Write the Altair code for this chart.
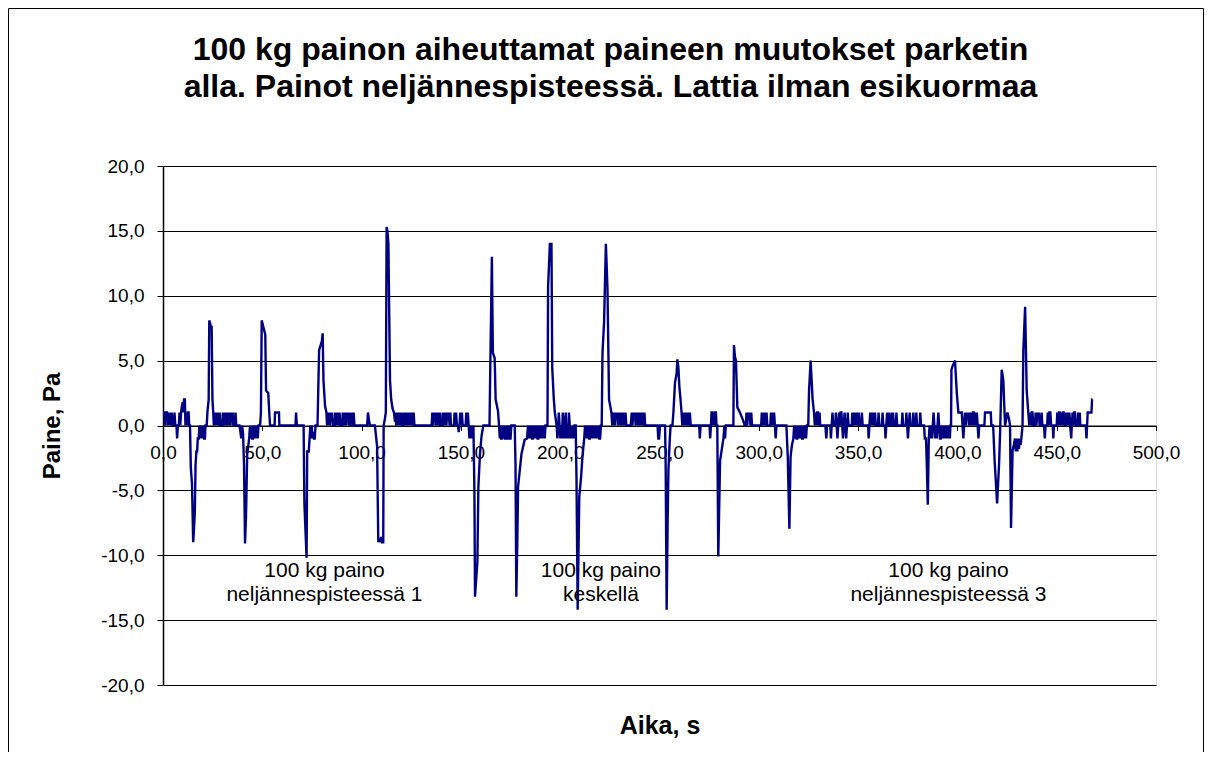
import altair as alt
import pandas as pd

# ---------------- data (time s, pressure Pa) ----------------
region_a = [(0.0,1),(0.6,1),(0.9,0),(1.3,1),(2.0,1),(2.3,0),(2.8,1),(3.2,0),(3.6,1),(4.0,0),(4.4,1),(4.8,0),
            (5.5,0),(5.8,1),(6.2,0),(6.8,0),(7.1,-1),(7.5,0),(8.0,0),(8.3,1),(8.7,0),(9.1,1),(9.5,1.5),(9.9,1.8),
            (10.2,1),(10.6,2),(11.0,2),(11.3,0),(11.7,1),(12.1,0),(12.5,1),(12.9,1),(13.2,0),(13.6,0)]
event_1 = [(14.0,-3.2),(14.6,-4.5),(15.2,-9.0),(15.6,-8.0),(16.0,-6.8),(16.4,-3.0),(16.8,-2.0),(17.2,-2.0),
           (17.5,-1.0),(18.0,-1.0),(18.3,0),(18.6,-1),(19.0,0),(19.3,-1),(19.7,0),(20.0,-1),(20.4,0),(20.7,-1),
           (21.1,-1),(21.4,0),(22.0,0),(22.4,1.1),(23.0,2.0),(23.3,8.1),(23.7,7.9),(24.1,7.6),(24.5,7.6),
           (24.9,2.0),(25.3,1.0),(25.6,0)]
region_b = [(26.0,1),(26.3,0),(26.6,1),(26.9,0.5),(27.2,1),(27.5,0),(27.8,1),(28.2,0),(28.5,1),(28.8,0),
            (29.8,0),(30.1,1),(30.4,0),(30.8,1),(31.1,0),(31.5,1),(31.8,0),(32.2,1),(32.5,0),(32.9,1),(33.2,0),
            (33.6,1),(34.0,0),(34.3,1),(34.7,0.5),(35.1,1),(35.4,0),(36.2,0),(36.5,1),(36.9,0),(38.5,0)]
event_2 = [(39.0,-0.5),(39.4,-1),(39.8,0),(40.3,-0.6),(40.8,-3),(41.3,-9.1),(41.8,-7.0),(42.4,-2.2),(43.0,-1.5),
           (43.4,-1),(43.8,0),(44.1,-1),(44.5,0),(44.9,-1),(45.3,-1),(45.7,0),(46.1,-1),(46.5,0),(46.9,-1),
           (47.3,0),(47.7,-1),(48.1,0),(48.9,0),(49.3,1.0),(49.7,8.1),(50.2,7.8),(51.0,7.3),(51.5,7.0),
           (51.9,2.7),(53.0,2.5),(53.5,1.0),(53.9,0)]
region_c = [(56.2,0),(56.4,1),(58.4,1),(58.6,0),(66.7,0),(67.0,1),(67.4,0),(70.8,0)]
event_3 = [(71.2,-6.0),(72.3,-10.2),(72.6,-2.0),(73.4,-2.0),(73.8,-1.0),(74.2,0),(74.5,-1),(74.9,0),(75.2,-1),
           (75.6,-0.5),(76.0,-1),(76.4,-1),(76.8,0),(77.8,0),(78.6,5.8),(80.0,6.5),(80.4,7.1),(80.8,3.5),
           (81.6,1.5),(82.3,1.0),(82.6,0)]
region_d = [(83.0,1),(83.3,0),(83.7,1),(84.0,0),(84.4,1),(84.8,0.5),(85.1,1),(85.5,0),(86.4,0),(86.7,1),
            (87.0,0),(87.4,1),(87.7,0),(88.1,1),(88.5,0),(88.9,1),(89.3,0),(90.2,0),(90.5,1),(90.8,0),(91.2,1),
            (91.5,0),(91.9,1),(92.3,0),(92.6,1),(93.0,0.5),(93.3,1),(93.7,0),(94.0,1),(94.4,0),(95.0,0),
            (95.3,1),(95.7,0),(96.0,1),(96.4,0),(102.8,0),(103.2,1),(103.8,0.3),(104.2,0),(106.7,0)]
event_4 = [(107.8,-1.6),(108.4,-9.0),(108.8,-8.7),(109.3,-9.0),(109.8,-8.6),(110.3,-9.0),(110.9,-9.0),
           (111.1,0),(111.7,0.5),(112.2,1),(112.6,15.3),(113.0,15.0),(113.5,14.0),(114.3,3.5),(114.9,2.0),
           (115.6,1.3),(116.3,1.0),(116.8,0.3)]
region_e = [(117.1,1),(117.4,0),(117.8,1),(118.1,0),(118.5,1),(118.9,0),(119.3,1),(119.7,0),(120.0,1),
            (120.4,0),(121.0,0),(121.3,1),(121.7,0),(122.1,1),(122.4,0),(122.8,1),(123.2,0),(123.6,1),
            (124.0,0),(124.3,1),(124.8,0),(125.2,1),(125.6,0),(126.2,1),(126.6,0),(135.3,0),
            (135.6,1),(136.0,0),(136.3,1),(136.7,0.5),(137.0,1),(137.4,0),(137.8,1),(138.1,0),(138.5,1),
            (138.9,0),(139.3,1),(139.7,0),(140.5,0),(140.8,1),(141.2,0),(141.6,1),(142.0,0),(142.4,1),
            (142.7,0),(143.1,1),(143.5,0.5),(143.9,1),(144.3,0),(144.7,1),(145.0,0),(146.5,0),(146.8,1),
            (147.2,0),(147.6,1),(148.0,0),(148.5,0),(148.9,-0.5),(149.3,0),(149.7,1),(150.1,0),(150.5,1),
            (150.9,0),(152.4,0),(152.7,1),(153.1,0),(153.5,1),(153.9,0)]
event_5 = [(154.3,-1),(154.7,0),(155.1,-1),(155.4,0),(155.8,-1),(156.3,0),(156.8,-5.0),(157.1,-13.2),
           (158.3,-10.5),(158.8,-4.7),(159.6,-2.2),(160.4,-0.8),(161.3,0),(164.4,0),(164.9,5.6),(165.6,13.0),
           (166.1,5.6),(167.0,5.2),(167.5,2.0),(168.7,1.1),(169.2,0),
           (169.6,-1),(170.0,0),(170.3,-1),(170.7,-1),(171.0,0),(171.4,-1),(171.8,0),(172.2,-1),(172.6,-1),
           (173.0,0),(173.4,-1),(173.8,-1),(174.2,0),(174.6,-1),(175.0,-1),(175.4,0),(177.1,0)]
event_6 = [(177.5,-3.0),(177.9,-13.2),(178.4,-9.0),(178.8,-4.7),(180.5,-2.2),(182.1,-1.1),(183.3,-1.0),
           (183.8,0),(184.2,-1),(184.6,0),(185.0,-1),(185.4,0),(185.8,-1),(186.2,-1),(186.6,0),(187.0,-1),
           (187.4,0),(187.8,-1),(188.2,0),(188.6,-1),(189.0,-1),(189.4,0),(189.8,-1),(190.2,0),(190.6,-1),
           (191.0,0),(191.4,-1),(191.8,0),(192.2,-1),(192.6,0),(193.6,0)]
event_7 = [(193.9,10.7),(194.8,14.0),(195.6,14.0),(196.0,4.4),(196.8,2.0),(197.3,1.0),(198.2,0),
           (198.6,-1),(199.0,0),(199.3,1),(199.7,0),(200.1,-1),(200.5,0),(200.9,-1),(201.3,1),(201.7,0),
           (202.0,-1),(202.4,0),(202.8,1),(203.2,-1),(203.6,0),(204.0,-1),(204.4,1),(204.8,0),(205.2,-1),
           (205.6,0),(206.0,-1),(206.4,0),(206.8,-1),(207.2,0),(207.8,0)]
event_8 = [(208.2,-4.0),(208.8,-14.2),(209.6,-5.5),(210.5,-4.0),(211.3,-2.2),(212.1,-1.0),(212.5,0),
           (212.9,-1),(213.3,0),(213.7,-1),(214.1,0),(214.5,-1),(214.9,-1),(215.3,0),(215.7,-1),(216.1,0),
           (216.5,-1),(216.9,0),(217.3,-1),(217.7,0),(218.1,-1),(218.5,0),(218.9,-1),(219.3,0),(219.7,-1),
           (220.1,-1),(220.5,0),(220.9,0)]
event_9 = [(221.3,5.6),(222.1,8.0),(223.0,14.0),(223.8,10.6),(224.6,2.0),(225.8,1.0),(226.2,0)]
region_f = [(226.6,1),(227.0,0),(227.3,1),(227.7,0),(228.1,1),(228.5,0.5),(228.9,1),(229.3,0),(229.7,1),
            (230.1,0),(230.5,1),(230.9,0),(231.3,1),(231.7,0),(232.1,1),(232.5,0),(232.9,1),(233.3,0),
            (235.5,0),(236.0,1),(236.4,0),(236.8,1),(237.2,0.5),(237.6,1),(238.0,0),(238.4,1),(238.8,0),
            (239.2,1),(239.6,0),(240.0,1),(240.4,0),(240.8,1),(241.2,0),(241.6,1),(242.0,0),(242.4,1),
            (242.8,0),(249.0,0),(249.4,-1),(249.8,-1),(250.2,0),(252.8,0)]
event_10 = [(253.1,-3.0),(253.6,-14.2),(254.1,-7.4),(254.5,-3.4),(255.2,-1.0),(255.6,0),(256.5,0),(257.0,1.0),
            (257.8,3.3),(258.6,4.0),(259.0,5.1),(259.5,4.5),(260.0,3.0),(260.6,2.0),(261.1,1.0),(261.5,0),
            (261.9,1),(262.3,0),(262.7,1),(263.1,0),(263.5,1),(263.9,0),(264.3,1),(264.8,0),(265.3,1),
            (265.7,0),(270.0,0),(270.3,-1),(270.7,0),(275.2,0),(275.5,-1),(275.9,0),(276.2,1),(276.7,1),
            (277.0,0),(277.3,1),(277.7,0),(278.0,1),(278.4,1),(278.7,0),(279.1,0)]
event_11 = [(279.6,-10.1),(280.5,-2.7),(281.2,-2.0),(282.2,-1.0),(282.7,0),(283.0,-1),(283.4,0),(287.2,0),
            (287.5,6.2),(288.0,5.3),(288.5,5.0),(289.2,1.4),(290.5,1.0),(292.1,0.4),(292.9,0),
            (293.5,0),(293.8,1),(294.2,0),(294.6,1),(295.0,0.5),(295.4,1),(295.8,0),(296.2,1),(296.6,0),
            (301.2,0),(301.5,1),(301.9,0),(302.3,1),(302.7,0),(303.1,1),(303.5,0),(303.9,1),(304.3,0),
            (305.8,0),(306.1,1),(306.5,0),(306.9,1),(307.3,0),(307.7,1),(308.1,0),(308.5,-1),(308.9,0),
            (313.9,0)]
event_12 = [(314.6,-2.5),(315.4,-7.95),(316.0,-2.4),(316.7,-1.5),(317.4,-1.0),(317.8,0),(318.2,-1),(318.6,0),
            (319.0,-1),(319.4,-1),(319.8,0),(320.2,-1),(320.6,0),(321.0,-1),(321.4,0),(321.8,-1),(322.2,-1),
            (322.6,0),(323.0,-1),(323.4,0),(323.8,-1),(324.2,0),(324.9,0),(325.3,2.7),(326.1,5.0),(326.6,3.5),
            (327.1,2.0),(327.8,1.0),(328.2,0),(328.6,1),(329.0,0),(329.4,1),(329.8,1),(330.2,0),(330.6,1),
            (330.9,0),(333.5,0)]
region_g = [(334.0,-1),(334.4,0),(336.0,0),(336.3,-1),(336.7,0),(337.1,1),(337.5,0),(338.5,0),(338.8,1),
            (339.2,0),(339.6,-1),(340.0,0),(340.4,1),(340.8,0),(341.2,1),(341.6,1),(342.0,0),(342.4,-1),
            (342.8,0),(343.2,1),(343.6,0),(344.0,-1),(344.4,0),(344.8,1),(345.2,0),(346.8,0),(347.1,1),
            (347.5,0),(347.9,1),(348.3,0),(348.7,1),(349.1,0),(349.5,1),(349.9,0),(350.3,1),(350.7,0),
            (351.5,0),(351.9,1),(352.3,0),(355.0,0),(355.3,-1),(355.7,0),(356.1,1),(356.5,0),(356.9,1),
            (357.3,0),(357.7,1),(358.1,0),(358.5,1),(358.9,0),(360.0,0),(360.3,1),(360.7,0),(362.0,0),
            (362.3,1),(362.7,0),(363.5,0),(363.8,-1),(364.2,0),(364.6,1),(365.0,0),(365.4,1),(365.8,0),
            (366.5,0),(366.8,1),(367.2,0),(367.6,1),(368.0,0),(369.0,0),(369.3,1),(369.7,0),(372.0,0),
            (372.3,1),(372.7,0),(374.0,0),(374.3,1),(374.7,0),(375.1,-1),(375.5,0),(376.0,1),(376.4,0),
            (377.5,0),(377.8,1),(378.2,0),(379.0,0),(379.3,1),(379.7,0),(381.0,0),(381.3,1),(381.7,0),
            (383.2,0)]
event_13 = [(383.6,-1),(384.2,-1),(384.6,-3.0),(385.1,-6.1),(385.6,-1.0),(386.0,0),(386.4,-1),(386.8,0),
            (387.2,-1),(387.6,0),(388.0,1),(388.4,0),(388.8,-1),(389.2,0),(389.6,-1),(390.0,0),(390.4,1),
            (390.8,0),(391.2,-1),(391.6,-1),(392.0,0),(392.4,-1),(392.8,0),(393.2,-1),(393.5,0),(393.8,-1),
            (394.1,0),(394.4,-1),(394.7,0),(395.0,-1),(395.3,0),(395.6,-1),(395.9,0),(396.2,-1),(396.5,0),
            (396.8,0),(397.0,4.3),(397.6,4.6),(398.8,5.0),(399.7,2.5),(400.5,1.0),(402.2,1.0),(402.6,0),
            (403.0,-1),(403.4,0),(403.8,1),(404.2,0),(404.6,1),(405.0,0.5),(405.4,1),(405.8,0),(406.2,1),
            (406.6,0),(407.0,1),(407.4,0),(407.8,1),(408.2,1),(408.6,0),(409.0,1),(409.4,0),(409.8,1),
            (410.2,0),(410.6,-1),(411.0,0),(413.6,0),(413.9,1),(416.8,1),(417.1,0)]
event_14 = [(418.0,0),(418.8,-2.9),(420.0,-6.0),(421.0,-2.9),(421.6,0),(422.3,4.3),(423.1,3.5),(424.0,0),
            (424.6,0.5),(425.2,1.0),(426.0,0.5),(426.5,0),(427.0,-7.9),(427.8,-1.9),(428.4,-1.5),(429.0,-1.0),
            (429.4,-2),(429.8,-1),(430.2,-2),(430.6,-1),(431.0,-1.8),(431.4,-1),(431.8,-1.5),(432.2,-1),
            (432.8,0),(433.2,5.8),(434.1,9.15),(434.9,2.7),(435.7,1.0)]
region_h = [(436.2,0),(436.6,1),(437.0,0),(437.4,1),(437.8,1),(438.2,0),(439.0,0),(439.4,1),(439.8,0),
            (440.2,1),(440.6,0.5),(441.0,1),(441.4,0),(442.0,0),(442.4,1),(442.8,0),(443.6,0),(444.0,-1),
            (444.4,0),(445.2,0),(445.5,1),(445.9,0),(446.3,1),(446.8,1),(447.2,0),(448.0,0),(448.3,-1),
            (448.6,0),(450.0,0),(450.3,1),(450.7,0),(451.1,1),(451.5,1),(451.9,0),(452.3,1),(452.7,0),
            (453.1,1),(453.5,1),(453.9,0),(454.5,0),(454.8,1),(455.2,0),(455.6,1),(456.0,0),(456.4,1),
            (456.8,0),(457.3,-1),(457.6,0),(458.0,1),(458.4,0),(458.8,1),(459.2,1),(459.6,0),(460.5,0),
            (460.8,1),(461.2,0),(461.6,1),(461.9,0),(464.6,0),(465.0,-1),(465.3,0),(465.6,1),(467.5,1),
            (467.8,2.0),(468.0,2.0)]

segments = [region_a, event_1, region_b, event_2, region_c, event_3, region_d, event_4, region_e,
            event_5, event_6, event_7, event_8, event_9, region_f, event_10, event_11, event_12,
            region_g, event_13, event_14, region_h]

# annotation texts and their anchor positions (data units)
ann_text = ["100 kg paino", "neljännespisteessä 1", "100 kg paino", "keskellä",
            "100 kg paino", "neljännespisteessä 3"]
ann_t = [81.3, 81.3, 220.5, 220.5, 395.5, 395.5]
ann_p = [-11.7, -13.55, -11.7, -13.55, -11.7, -13.55]

x_ticks = [0, 50, 100, 150, 200, 250, 300, 350, 400, 450, 500]
y_ticks = [-20, -15, -10, -5, 0, 5, 10, 15, 20]

title_lines = ["100 kg painon aiheuttamat paineen muutokset parketin",
               "alla. Painot neljännespisteessä. Lattia ilman esikuormaa"]

# ---------------- chart ----------------
rows = [pt for seg in segments for pt in seg]
df = pd.DataFrame(rows, columns=["t", "p"])
ann_df = pd.DataFrame({"t": ann_t, "p": ann_p, "label": ann_text})

FONT = "Liberation Sans"
W, H = 993, 519
fmt = "replace(replace(format(datum.value, '.1f'), '.', ','), '\u2212', '-')"

x_enc = alt.X("t:Q", scale=alt.Scale(domain=[0, 500], nice=False, zero=False),
              axis=alt.Axis(values=x_ticks, labelExpr=fmt, title="Aika, s", orient="bottom",
                            offset=-H / 2, grid=False, domain=True, domainColor="black",
                            domainWidth=1, ticks=True, tickColor="black", tickSize=5,
                            labelPadding=13, labelFont=FONT, labelFontSize=19, labelColor="black",
                            labelOverlap=False, labelFlush=False, labelBound=False,
                            titleFont=FONT, titleFontSize=25, titleFontWeight="bold",
                            titleColor="black", titleX=W / 2, titleY=308, titleAlign="center",
                            titleBaseline="alphabetic"))
y_enc = alt.Y("p:Q", scale=alt.Scale(domain=[-20, 20], nice=False, zero=False),
              axis=alt.Axis(values=y_ticks, labelExpr=fmt, title="Paine, Pa", grid=True,
                            gridColor="black", gridWidth=1, domain=True, domainColor="black",
                            domainWidth=1.5, tickColor="black", tickSize=6, labelPadding=13,
                            labelFont=FONT, labelFontSize=19, labelColor="black",
                            labelOverlap=False, labelFlush=False, labelBound=False,
                            titleFont=FONT, titleFontSize=24, titleFontWeight="bold",
                            titleColor="black", titleAngle=-90, titleX=-111, titleY=H / 2,
                            titleAlign="center", titleBaseline="middle"))

line = alt.Chart(df).mark_line(color="#000080", strokeWidth=2.4).encode(x=x_enc, y=y_enc)

ann = alt.Chart(ann_df).mark_text(font=FONT, fontSize=21, color="black", align="center",
                                  baseline="alphabetic").encode(
    x="t:Q", y="p:Q", text="label:N")

frame = alt.Chart(pd.DataFrame({"k": [0]})).mark_rect(
    filled=False, stroke="black", strokeWidth=1).encode(
    x=alt.value(-154.5), x2=alt.value(1040.5), y=alt.value(-157.5), y2=alt.value(700))

title = alt.Chart(pd.DataFrame({"k": [0]})).mark_text(
    font=FONT, fontSize=32, fontWeight="bold", color="black", align="center",
    baseline="alphabetic", lineHeight=37).encode(
    x=alt.value(447.5), y=alt.value(-106), text=alt.value(title_lines))

chart = alt.layer(frame, line, ann, title).properties(
    width=W, height=H,
    autosize=alt.AutoSizeParams(type="none"),
    padding={"left": 155, "top": 158, "right": 48, "bottom": 67},
).configure_view(stroke="#808080", strokeWidth=1.5).configure(background="white")

chart.save("out.html", embed_options={"renderer": "svg", "actions": False})
